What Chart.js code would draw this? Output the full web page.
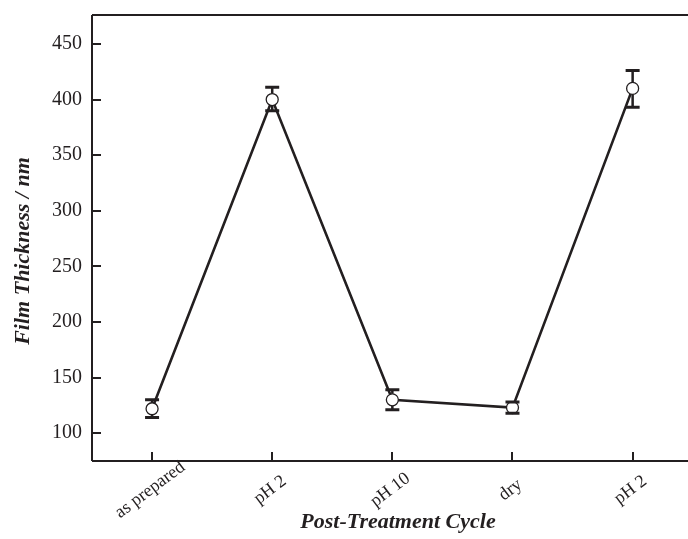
<!DOCTYPE html>
<html>
<head>
<meta charset="utf-8">
<script src="https://cdn.jsdelivr.net/npm/chart.js@4/dist/chart.umd.min.js"></script>
<style>
html,body{margin:0;padding:0;overflow:hidden;background:#fff;}
#wrap{width:700px;height:539px;position:relative;}
</style>
</head>
<body>
<div id="wrap"><canvas id="c"></canvas></div>
<script>
const categories = ['as prepared', 'pH 2', 'pH 10', 'dry', 'pH 2'];
const thickness = [122, 400, 130, 123, 410];
const errLow = [114, 390, 121, 118, 393];
const errHigh = [130, 411, 139, 128, 426];
const yTicks = [100, 150, 200, 250, 300, 350, 400, 450];
const xTitle = 'Post-Treatment Cycle';
const yTitle = 'Film Thickness / nm';

const INK = '#231f20';
const SERIF = '"Liberation Serif", "Times New Roman", serif';

const framePlugin = {
  id: 'frame',
  afterDatasetsDraw(chart) {
    const {ctx, scales: {x, y}} = chart;
    ctx.save();
    ctx.strokeStyle = INK;
    thickness.forEach((v, i) => {
      const px = x.getPixelForValue(i);
      const yl = y.getPixelForValue(errLow[i]);
      const yh = y.getPixelForValue(errHigh[i]);
      const yv = y.getPixelForValue(v);
      const r = 6;
      ctx.lineWidth = 2.5;
      ctx.beginPath();
      if (yh < yv - r) { ctx.moveTo(px, yh); ctx.lineTo(px, yv - r); }
      if (yl > yv + r) { ctx.moveTo(px, yv + r); ctx.lineTo(px, yl); }
      ctx.stroke();
      ctx.lineWidth = 3;
      ctx.beginPath();
      ctx.moveTo(px - 7, yh); ctx.lineTo(px + 7, yh);
      ctx.moveTo(px - 7, yl); ctx.lineTo(px + 7, yl);
      ctx.stroke();
    });
    ctx.restore();
  },
  afterDraw(chart) {
    const {ctx, chartArea: a, scales: {x, y}} = chart;
    ctx.save();
    ctx.strokeStyle = INK;
    ctx.lineWidth = 2;
    ctx.beginPath();
    ctx.moveTo(a.left, a.top); ctx.lineTo(a.right, a.top);
    ctx.moveTo(a.left, a.top); ctx.lineTo(a.left, a.bottom);
    ctx.moveTo(a.left, a.bottom); ctx.lineTo(a.right, a.bottom);
    ctx.moveTo(a.right, a.top); ctx.lineTo(a.right, a.bottom);
    yTicks.forEach(t => {
      const py = Math.round(y.getPixelForValue(t));
      ctx.moveTo(a.left, py); ctx.lineTo(a.left + 9, py);
    });
    categories.forEach((c, i) => {
      const px = Math.round(x.getPixelForValue(i));
      ctx.moveTo(px, a.bottom); ctx.lineTo(px, a.bottom - 9);
    });
    ctx.stroke();
    ctx.fillStyle = INK;
    ctx.font = '18px ' + SERIF;
    ctx.textAlign = 'center';
    ctx.textBaseline = 'middle';
    categories.forEach((c, i) => {
      const px = x.getPixelForValue(i);
      ctx.save();
      ctx.translate(px - 2, a.bottom + 29);
      ctx.rotate(-37 * Math.PI / 180);
      ctx.fillText(c, 0, 0);
      ctx.restore();
    });
    ctx.font = 'italic bold 22px ' + SERIF;
    ctx.fillText(xTitle, 398, 522);
    ctx.save();
    ctx.translate(23, 251);
    ctx.rotate(-Math.PI / 2);
    ctx.fillText(yTitle, 0, 0);
    ctx.restore();
    ctx.restore();
  }
};

new Chart(document.getElementById('c'), {
  type: 'line',
  data: {
    labels: categories,
    datasets: [{
      data: thickness,
      borderColor: INK,
      borderWidth: 2.6,
      tension: 0,
      pointRadius: 6,
      pointHoverRadius: 6,
      pointBackgroundColor: '#ffffff',
      pointBorderColor: INK,
      pointBorderWidth: 1.3
    }]
  },
  plugins: [framePlugin],
  options: {
    responsive: true,
    maintainAspectRatio: false,
    animation: false,
    events: [],
    layout: { padding: { top: 15, right: 5, left: 0, bottom: 0 } },
    plugins: { legend: { display: false }, tooltip: { enabled: false } },
    scales: {
      x: {
        type: 'category',
        offset: true,
        grid: { display: false, drawTicks: false },
        border: { display: false },
        ticks: { display: false },
        afterFit: s => { s.height = 78; s.paddingLeft = 0; s.paddingRight = 0; }
      },
      y: {
        min: 75,
        max: 476,
        grid: { display: false, drawTicks: false },
        border: { display: false },
        afterBuildTicks: s => { s.ticks = yTicks.map(v => ({ value: v })); },
        ticks: {
          padding: 10,
          color: INK,
          font: { family: SERIF, size: 20 }
        },
        afterFit: s => { s.width = 92; s.paddingTop = 0; s.paddingBottom = 0; }
      }
    }
  }
});
</script>
</body>
</html>
